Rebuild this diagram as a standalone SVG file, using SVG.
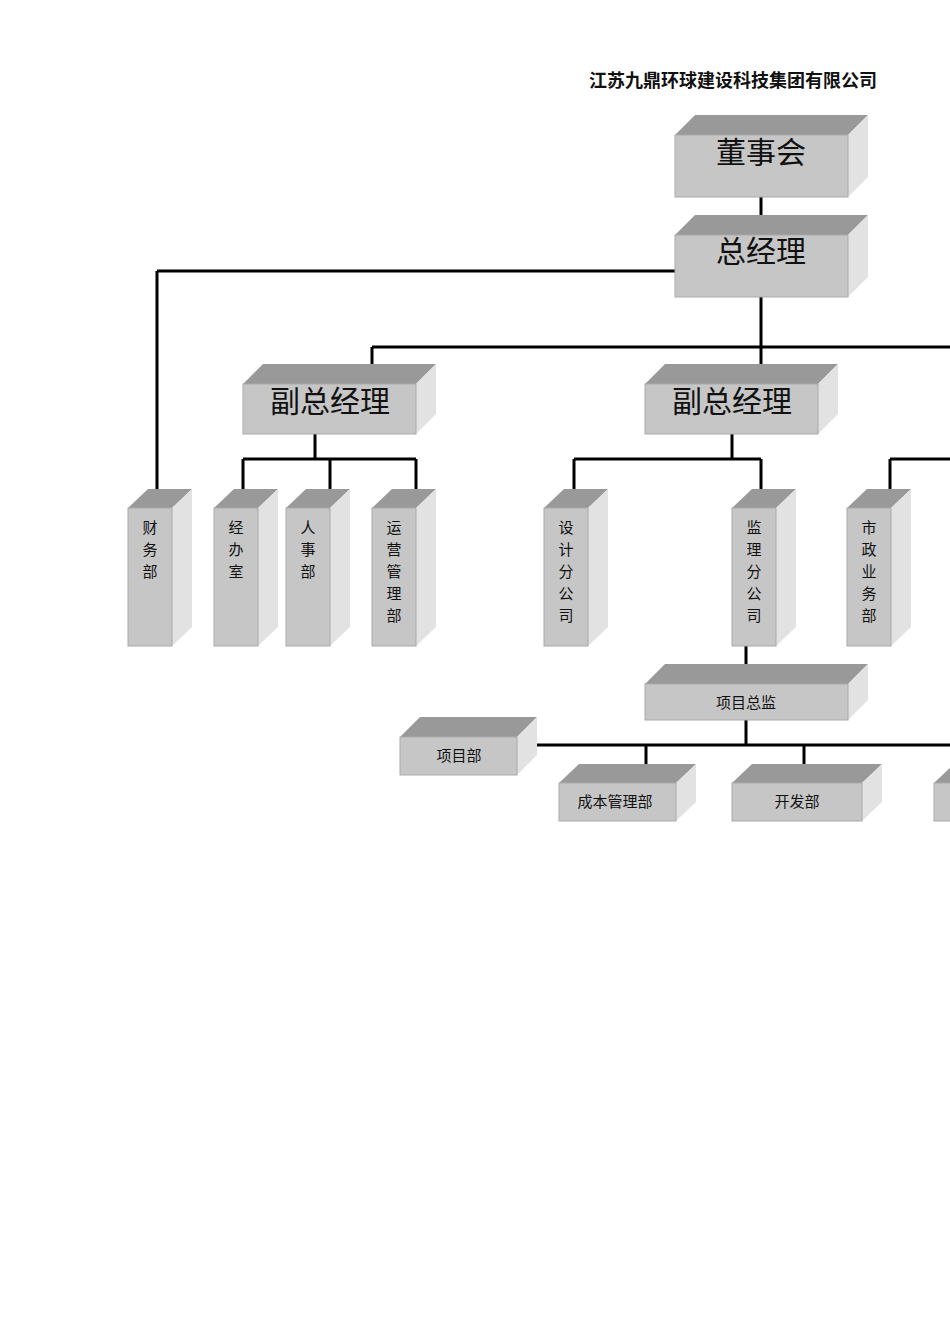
<svg xmlns="http://www.w3.org/2000/svg" width="950" height="1344" viewBox="0 0 950 1344">
<style>
.f{fill:#c6c6c6;stroke:#aaa;stroke-width:1}
.t{fill:#999}
.s{fill:#e2e2e2}
.l{stroke:#000;stroke-width:3;fill:none}
text{font-family:"Liberation Serif","Noto Sans CJK SC",serif;fill:#111}
.big{font-size:30px}
.sm{font-size:15px}
</style>
<rect width="950" height="1344" fill="#fff"/>
<text x="877" y="87" text-anchor="end" style="font-size:18px;font-weight:bold;font-family:'Noto Sans CJK SC',sans-serif">江苏九鼎环球建设科技集团有限公司</text>
<g id="connectors">
<path class="l" d="M761 197V215M761 297V364M372 347H950M372 347V384M157 271H675M157 271V489M315 434V459M243 459H416M243 459V489M330 459V489M416 459V489M732 434V459M574 459H761M574 459V489M761 459V489M890 459H950M890 459V489M746 646V664M746 720V745M537 745H950M646 745V770M804 745V770"/>
</g>
<g id="n1"><polygon class="t" points="675,135 695,115 868,115 848,135"/><polygon class="s" points="848,135 868,115 868,177 848,197"/><rect class="f" x="675" y="135" width="173" height="62"/><text class="big" x="761" y="163" text-anchor="middle">董事会</text></g>
<g id="n2"><polygon class="t" points="675,235 695,215 868,215 848,235"/><polygon class="s" points="848,235 868,215 868,277 848,297"/><rect class="f" x="675" y="235" width="173" height="62"/><text class="big" x="761" y="262" text-anchor="middle">总经理</text></g>
<g id="n3"><polygon class="t" points="243,384 263,364 436,364 416,384"/><polygon class="s" points="416,384 436,364 436,414 416,434"/><rect class="f" x="243" y="384" width="173" height="50"/><text class="big" x="330" y="412" text-anchor="middle">副总经理</text></g>
<g id="n4"><polygon class="t" points="645,384 665,364 838,364 818,384"/><polygon class="s" points="818,384 838,364 838,414 818,434"/><rect class="f" x="645" y="384" width="173" height="50"/><text class="big" x="732" y="412" text-anchor="middle">副总经理</text></g>
<g id="v1"><polygon class="t" points="128,508 148,489 192,489 172,508"/><polygon class="s" points="172,508 192,489 192,627 172,646"/><rect class="f" x="128" y="508" width="44" height="138"/><text class="sm" x="150" y="533" text-anchor="middle">财</text><text class="sm" x="150" y="555" text-anchor="middle">务</text><text class="sm" x="150" y="577" text-anchor="middle">部</text></g>
<g id="v2"><polygon class="t" points="214,508 234,489 278,489 258,508"/><polygon class="s" points="258,508 278,489 278,627 258,646"/><rect class="f" x="214" y="508" width="44" height="138"/><text class="sm" x="236" y="533" text-anchor="middle">经</text><text class="sm" x="236" y="555" text-anchor="middle">办</text><text class="sm" x="236" y="577" text-anchor="middle">室</text></g>
<g id="v3"><polygon class="t" points="286,508 306,489 350,489 330,508"/><polygon class="s" points="330,508 350,489 350,627 330,646"/><rect class="f" x="286" y="508" width="44" height="138"/><text class="sm" x="308" y="533" text-anchor="middle">人</text><text class="sm" x="308" y="555" text-anchor="middle">事</text><text class="sm" x="308" y="577" text-anchor="middle">部</text></g>
<g id="v4"><polygon class="t" points="372,508 392,489 436,489 416,508"/><polygon class="s" points="416,508 436,489 436,627 416,646"/><rect class="f" x="372" y="508" width="44" height="138"/><text class="sm" x="394" y="533" text-anchor="middle">运</text><text class="sm" x="394" y="555" text-anchor="middle">营</text><text class="sm" x="394" y="577" text-anchor="middle">管</text><text class="sm" x="394" y="599" text-anchor="middle">理</text><text class="sm" x="394" y="621" text-anchor="middle">部</text></g>
<g id="v5"><polygon class="t" points="544,508 564,489 608,489 588,508"/><polygon class="s" points="588,508 608,489 608,627 588,646"/><rect class="f" x="544" y="508" width="44" height="138"/><text class="sm" x="566" y="533" text-anchor="middle">设</text><text class="sm" x="566" y="555" text-anchor="middle">计</text><text class="sm" x="566" y="577" text-anchor="middle">分</text><text class="sm" x="566" y="599" text-anchor="middle">公</text><text class="sm" x="566" y="621" text-anchor="middle">司</text></g>
<g id="v6"><polygon class="t" points="732,508 752,489 796,489 776,508"/><polygon class="s" points="776,508 796,489 796,627 776,646"/><rect class="f" x="732" y="508" width="44" height="138"/><text class="sm" x="754" y="533" text-anchor="middle">监</text><text class="sm" x="754" y="555" text-anchor="middle">理</text><text class="sm" x="754" y="577" text-anchor="middle">分</text><text class="sm" x="754" y="599" text-anchor="middle">公</text><text class="sm" x="754" y="621" text-anchor="middle">司</text></g>
<g id="v7"><polygon class="t" points="847,508 867,489 911,489 891,508"/><polygon class="s" points="891,508 911,489 911,627 891,646"/><rect class="f" x="847" y="508" width="44" height="138"/><text class="sm" x="869" y="533" text-anchor="middle">市</text><text class="sm" x="869" y="555" text-anchor="middle">政</text><text class="sm" x="869" y="577" text-anchor="middle">业</text><text class="sm" x="869" y="599" text-anchor="middle">务</text><text class="sm" x="869" y="621" text-anchor="middle">部</text></g>
<g id="p1"><polygon class="t" points="645,684 665,664 868,664 848,684"/><polygon class="s" points="848,684 868,664 868,700 848,720"/><rect class="f" x="645" y="684" width="203" height="36"/><text class="sm" x="746" y="708" text-anchor="middle">项目总监</text></g>
<g id="p2"><polygon class="t" points="400,737 420,717 537,717 517,737"/><polygon class="s" points="517,737 537,717 537,755 517,775"/><rect class="f" x="400" y="737" width="117" height="38"/><text class="sm" x="459" y="761" text-anchor="middle">项目部</text></g>
<g id="p3"><polygon class="t" points="559,783 579,764 696,764 676,783"/><polygon class="s" points="676,783 696,764 696,802 676,821"/><rect class="f" x="559" y="783" width="117" height="38"/><text class="sm" x="615" y="807" text-anchor="middle">成本管理部</text></g>
<g id="p4"><polygon class="t" points="732,783 752,764 882,764 862,783"/><polygon class="s" points="862,783 882,764 882,802 862,821"/><rect class="f" x="732" y="783" width="130" height="38"/><text class="sm" x="797" y="807" text-anchor="middle">开发部</text></g>
<g id="p5"><polygon class="t" points="934,783 954,764 990,764 970,783"/><rect class="f" x="934" y="783" width="40" height="38"/></g>
</svg>
